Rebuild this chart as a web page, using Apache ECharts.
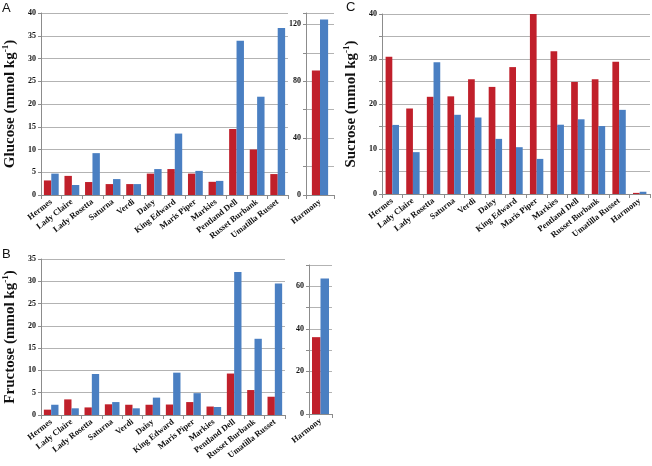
<!DOCTYPE html>
<html><head><meta charset="utf-8">
<script src="https://cdn.jsdelivr.net/npm/echarts@6/dist/echarts.min.js"></script>
<style>html,body{margin:0;padding:0;background:#fff}#c{width:652px;height:466px}</style>
</head><body><div id="c"></div>
<script>
const categories = ['Hermes','Lady Claire','Lady Rosetta','Saturna','Verdi','Daisy','King Edward','Maris Piper','Markies','Pentland Dell','Russet Burbank','Umatilla Russet'];
const harmonyCategory = ['Harmony'];
const sucroseCategories = ['Hermes','Lady Claire','Lady Rosetta','Saturna','Verdi','Daisy','King Edward','Maris Piper','Markies','Pentland Dell','Russet Burbank','Umatilla Russet','Harmony'];

const glucoseRed  = [3.2, 4.2, 2.85, 2.4, 2.4, 4.7, 5.7, 4.7, 2.9, 14.5, 10.0, 4.6];
const glucoseBlue = [4.7, 2.2, 9.2, 3.5, 2.4, 5.7, 13.5, 5.3, 3.1, 33.9, 21.6, 36.7];
const glucoseHarmonyRed  = [87.5];
const glucoseHarmonyBlue = [123.5];

const fructoseRed  = [1.2, 3.5, 1.7, 2.4, 2.3, 2.3, 2.35, 2.9, 1.9, 9.3, 5.6, 4.1];
const fructoseBlue = [2.3, 1.5, 9.2, 2.9, 1.5, 3.9, 9.5, 4.9, 1.8, 32.1, 17.1, 29.5];
const fructoseHarmonyRed  = [36.1];
const fructoseHarmonyBlue = [63.7];

const sucroseRed  = [30.5, 19.0, 21.6, 21.7, 25.5, 23.8, 28.2, 40.1, 31.7, 24.9, 25.5, 29.4, 0.25];
const sucroseBlue = [15.35, 9.3, 29.3, 17.6, 17.0, 12.25, 10.4, 7.8, 15.4, 16.6, 15.1, 18.7, 0.5];

const RED = '#c0202b', BLUE = '#4a7fc2';
const FONT = 'Liberation Serif';

function xAx(gi, data){
  return {type:'category', gridIndex:gi, data:data,
    axisLine:{lineStyle:{color:'#8c8c8c'}},
    axisTick:{show:true, length:4, lineStyle:{color:'#8c8c8c'}},
    axisLabel:{rotate:38, interval:0, margin:6, fontFamily:FONT, fontWeight:'bold', fontSize:8.5, color:'#111'}};
}
function yAx(gi, max, interval, labelEvery, name){
  return {type:'value', gridIndex:gi, min:0, max:max, interval:interval,
    name:name||'', nameLocation:'middle', nameGap:22,
    nameTextStyle:{fontFamily:FONT, fontWeight:'bold', fontSize:15, color:'#111',
      rich:{sup:{fontFamily:FONT, fontWeight:'bold', fontSize:9, color:'#111', padding:[0,0,9,0]}}},
    axisLine:{show:true, lineStyle:{color:'#8c8c8c'}},
    axisTick:{show:true, length:3, lineStyle:{color:'#8c8c8c'}},
    splitLine:{show:true, lineStyle:{color:'#b3b3b3', width:1}},
    axisLabel:{fontFamily:FONT, fontWeight:'bold', fontSize:8, color:'#111', margin:5,
      formatter:function(v){ return (Math.round(v) % labelEvery === 0 && v <= max) ? String(v) : ''; }}};
}
function bar(gi, data, color, gap){
  return {type:'bar', xAxisIndex:gi, yAxisIndex:gi, data:data, barGap:'0%', barCategoryGap:gap,
    itemStyle:{color:color}, silent:true};
}

const chart = echarts.init(document.getElementById('c'));
chart.setOption({
  animation:false,
  grid:[
    {left:36, top:13, width:252, height:182},
    {left:306, top:13, width:28, height:182},
    {left:37, top:259, width:248, height:156},
    {left:309, top:265, width:23, height:149},
    {left:382, top:14, width:268, height:180}
  ],
  xAxis:[xAx(0,categories), xAx(1,harmonyCategory), xAx(2,categories), xAx(3,harmonyCategory), xAx(4,sucroseCategories)],
  yAxis:[
    yAx(0,40,5,5,'Glucose (mmol kg{sup|-1})'),
    yAx(1,128,20,40),
    yAx(2,35,5,5,'Fructose (mmol kg{sup|-1})'),
    yAx(3,70,10,20),
    yAx(4,40,5,10,'Sucrose (mmol kg{sup|-1})')
  ],
  series:[
    bar(0,glucoseRed,RED,'28%'), bar(0,glucoseBlue,BLUE,'28%'),
    bar(1,glucoseHarmonyRed,RED,'42%'), bar(1,glucoseHarmonyBlue,BLUE,'42%'),
    bar(2,fructoseRed,RED,'28%'), bar(2,fructoseBlue,BLUE,'28%'),
    bar(3,fructoseHarmonyRed,RED,'26%'), bar(3,fructoseHarmonyBlue,BLUE,'26%'),
    bar(4,sucroseRed,RED,'35%'), bar(4,sucroseBlue,BLUE,'35%')
  ],
  graphic:[
    {type:'text', left:2, top:2, style:{text:'A', font:'13px "Liberation Sans"', fill:'#111'}},
    {type:'text', left:2, top:248, style:{text:'B', font:'13px "Liberation Sans"', fill:'#111'}},
    {type:'text', left:346, top:1, style:{text:'C', font:'13px "Liberation Sans"', fill:'#111'}}
  ]
});
</script></body></html>
